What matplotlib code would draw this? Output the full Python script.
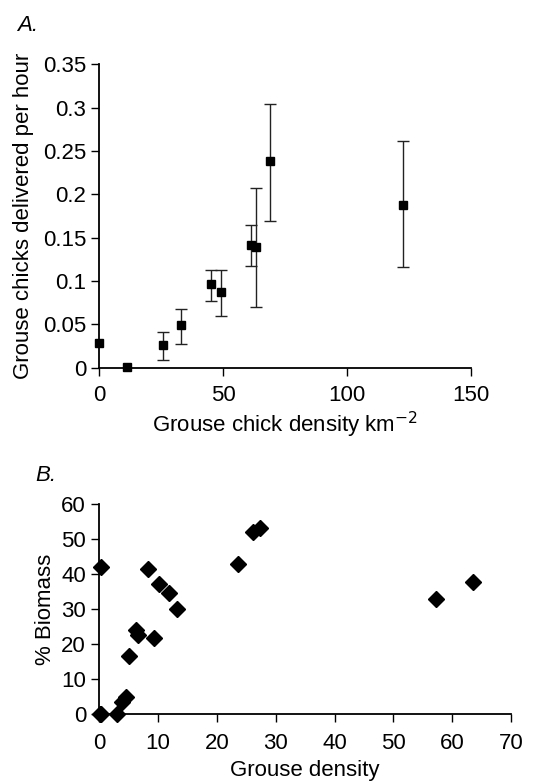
import matplotlib
matplotlib.use('Agg')
import matplotlib.pyplot as plt

plt.rcParams['font.family'] = ['Liberation Sans', 'DejaVu Sans']

# panel A: chicks delivered vs chick density
a_x = [0, 11.0, 25.8, 33.1, 44.9, 48.9, 61.0, 63.0, 68.8, 122.6]
a_y = [0.029, 0.001, 0.0265, 0.049, 0.096, 0.087, 0.141, 0.139, 0.238, 0.188]
a_lo = [None, None, 0.009, 0.027, 0.077, 0.060, 0.117, 0.070, 0.169, 0.116]
a_hi = [None, None, 0.0415, 0.068, 0.113, 0.113, 0.165, 0.207, 0.304, 0.261]
a_yticks = [0, 0.05, 0.1, 0.15, 0.2, 0.25, 0.3, 0.35]
a_ylabels = ['0', '0.05', '0.1', '0.15', '0.2', '0.25', '0.3', '0.35']
a_xticks = [0, 50, 100, 150]

# panel B: % biomass vs grouse density
b_x = [0.28, 0.1, 0.3, 2.95, 3.8, 4.5, 5.1, 6.2, 6.6, 8.3, 9.3, 10.1, 11.8, 13.15,
       23.5, 26.2, 27.4, 57.2, 63.5]
b_y = [42, 0, 0, 0, 3.6, 5.0, 16.6, 24.0, 22.6, 41.5, 21.6, 37.1, 34.7, 29.9,
       42.8, 52.0, 53.0, 32.9, 37.8]
b_yticks = [0, 10, 20, 30, 40, 50, 60]
b_xticks = [0, 10, 20, 30, 40, 50, 60, 70]

fs = 16

fig = plt.figure(figsize=(5.42, 7.84), dpi=100)

def style(ax):
    ax.spines['top'].set_visible(False)
    ax.spines['right'].set_visible(False)
    ax.spines['left'].set_linewidth(1.3)
    ax.spines['bottom'].set_linewidth(1.3)
    ax.tick_params(direction='out', length=5.5, width=1.0, labelsize=fs, pad=4)

ax1 = fig.add_axes([0.1832, 0.531, 0.6864, 0.387])
bx, by, lo, hi = [], [], [], []
for x, y, l, h in zip(a_x, a_y, a_lo, a_hi):
    if l is not None:
        bx.append(x)
        by.append(y)
        lo.append(y - l)
        hi.append(h - y)
ax1.errorbar(bx, by, yerr=[lo, hi], fmt='none', ecolor='#222222',
             elinewidth=1.0, capsize=4.5, capthick=1.0)
ax1.plot(a_x, a_y, 's', color='black', ms=5.5, clip_on=False, zorder=3)
ax1.set_xlim(0, 150)
ax1.set_ylim(0, 0.35)
ax1.set_xticks(a_xticks)
ax1.set_yticks(a_yticks)
ax1.set_yticklabels(a_ylabels)
style(ax1)
ax1.tick_params(axis='x', pad=7)
ax1.set_xlabel('Grouse chick density km$^{\u22122}$', fontsize=fs, labelpad=3)
ax1.set_ylabel('Grouse chicks delivered per hour', fontsize=fs, labelpad=6)
fig.text(0.031, 0.968, 'A.', fontsize=fs, style='italic', ha='left', va='center')

ax2 = fig.add_axes([0.1832, 0.0889, 0.7596, 0.2686])
ax2.plot(b_x, b_y, 'D', color='black', ms=8, clip_on=False)
ax2.set_xlim(0, 70)
ax2.set_ylim(0, 60)
ax2.set_xticks(b_xticks)
ax2.set_yticks(b_yticks)
style(ax2)
ax2.tick_params(axis='x', pad=8)
ax2.set_xlabel('Grouse density', fontsize=fs, labelpad=4)
ax2.set_ylabel('% Biomass', fontsize=fs, labelpad=4)
fig.text(0.066, 0.394, 'B.', fontsize=fs, style='italic', ha='left', va='center')

fig.savefig('out.png', dpi=100)
